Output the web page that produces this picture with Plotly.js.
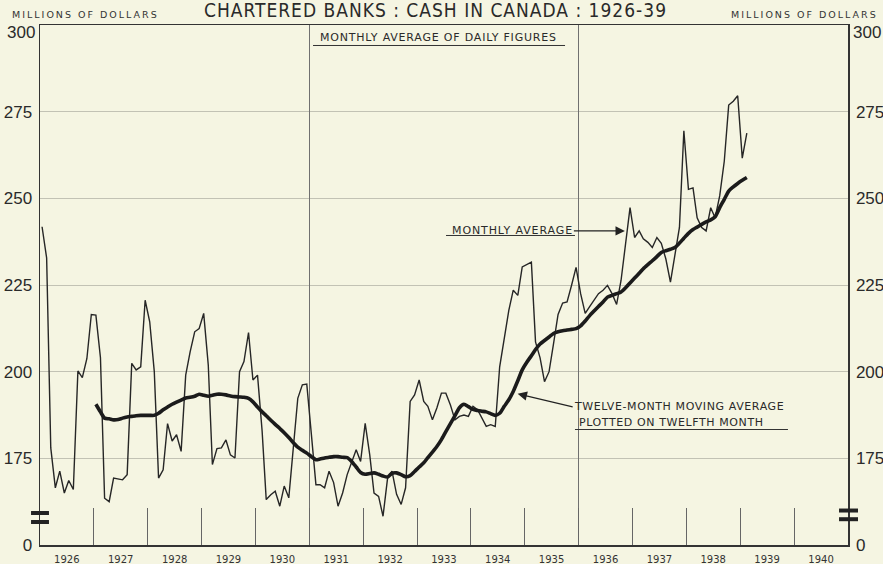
<!DOCTYPE html>
<html>
<head>
<meta charset="utf-8">
<script src="https://cdn.plot.ly/plotly-3.0.1.min.js"></script>
<style>
html,body{margin:0;padding:0;background:#f5f5e2;}
#chart{width:883px;height:564px;}
</style>
</head>
<body>
<div id="chart"></div>
<script>
// ---------- DATA ----------
const startYear = 1926;            // first month of monthly series: Jan 1926
const maStartYear = 1927;          // first month of moving average: Jan 1927

// Chartered banks: cash in Canada, monthly average of daily figures (millions of dollars)
const monthlyAverage = [
  241.8, 232.8, 178.0, 166.5, 171.3, 165.0, 168.6, 166.0, 200.2, 198.3, 203.8, 216.5, // 1926
  216.3, 204.0, 163.5, 162.5, 169.3, 169.0, 168.8, 170.3, 202.4, 200.5, 201.4, 220.6, // 1927
  214.4, 200.0, 169.3, 171.7, 185.0, 180.0, 181.8, 177.0, 199.0, 205.7, 211.5, 212.4, // 1928
  216.8, 201.9, 173.2, 177.8, 178.0, 180.3, 176.0, 175.1, 200.0, 202.9, 211.3, 197.6, // 1929
  199.0, 183.0, 163.1, 164.5, 165.5, 161.2, 167.0, 163.6, 178.0, 192.3, 196.2, 196.4, // 1930
  182.0, 167.4, 167.4, 166.5, 171.3, 168.0, 161.2, 165.0, 170.3, 174.0, 177.5, 174.1, // 1931
  185.1, 176.0, 165.0, 164.0, 158.3, 169.3, 171.3, 164.6, 161.7, 166.5, 191.4, 193.3, // 1932
  197.6, 191.4, 190.0, 186.1, 189.5, 193.8, 193.8, 190.4, 186.1, 187.1, 187.5, 187.1, // 1933
  190.0, 189.0, 186.6, 184.2, 184.7, 184.2, 201.4, 209.6, 217.7, 223.5, 222.0, 230.2, // 1934
  231.0, 231.6, 208.6, 204.0, 197.1, 200.0, 208.0, 216.5, 219.8, 220.1, 225.0, 230.1, // 1935
  222.5, 216.8, 218.7, 220.6, 222.5, 223.5, 224.9, 222.5, 219.4, 226.3, 237.0, 247.3, // 1936
  238.7, 240.6, 238.3, 237.3, 235.8, 238.7, 237.0, 232.5, 225.8, 233.5, 241.6, 269.5, // 1937
  252.6, 253.0, 244.4, 241.6, 240.6, 247.3, 244.4, 250.7, 260.7, 276.9, 278.0, 279.6, // 1938
  261.6, 268.8                                                                          // 1939
];

// Twelve-month moving average, plotted on twelfth month
const movingAverage = [
  190.6, 188.4, 186.6, 186.4, 186.1, 186.2, 186.6, 186.9, 187.1, 187.3, 187.4, 187.4, // 1927
  187.4, 187.4, 188.0, 189.0, 189.8, 190.6, 191.2, 191.8, 192.4, 192.6, 192.9, 193.5, // 1928
  193.2, 192.9, 193.2, 193.5, 193.5, 193.3, 193.0, 192.8, 192.7, 192.6, 192.3, 191.3, // 1929
  189.8, 188.4, 187.3, 186.0, 184.8, 183.6, 182.4, 181.0, 179.5, 178.2, 177.3, 176.5, // 1930
  175.5, 174.6, 174.8, 175.1, 175.3, 175.5, 175.5, 175.3, 175.2, 174.1, 172.5, 170.9, // 1931
  170.4, 170.6, 170.8, 170.4, 169.9, 169.6, 170.7, 170.8, 170.3, 169.7, 170.0, 171.2, // 1932
  172.5, 173.7, 175.2, 176.8, 178.4, 180.4, 182.7, 185.0, 187.3, 189.6, 190.6, 189.9, // 1933
  189.1, 188.8, 188.6, 188.4, 187.9, 187.4, 188.0, 190.0, 191.9, 194.3, 197.4, 200.5, // 1934
  202.7, 204.6, 206.4, 208.0, 209.0, 210.0, 211.0, 211.5, 211.8, 212.0, 212.2, 212.4, // 1935
  213.2, 214.6, 216.1, 217.5, 218.8, 220.1, 221.5, 222.0, 222.5, 223.0, 224.2, 225.6, // 1936
  227.0, 228.4, 229.7, 230.9, 232.0, 233.2, 234.4, 234.9, 235.3, 235.8, 237.1, 238.5, // 1937
  239.9, 241.0, 241.7, 242.5, 243.2, 243.8, 244.7, 247.3, 249.7, 252.1, 253.3, 254.3, // 1938
  255.2, 256.0                                                                          // 1939
];

const yearLabels = ['1926','1927','1928','1929','1930','1931','1932','1933','1934','1935','1936','1937','1938','1939','1940'];
const dividerYears = ['1931','1936'];
const yTickValues = [150, 175, 200, 225, 250, 275, 300];   // broken scale: bottom of axis stands for 0
const yTickLabels = ['0', '175', '200', '225', '250', '275', '300'];

// ---------- helpers ----------
function monthDates(y0, n) {
  const out = [];
  for (let i = 0; i < n; i++) {
    const y = y0 + Math.floor(i / 12);
    const m = (i % 12) + 1;
    out.push(y + '-' + (m < 10 ? '0' + m : m) + '-15');
  }
  return out;
}
const monthlyDates = monthDates(startYear, monthlyAverage.length);
const maDates = monthDates(maStartYear, movingAverage.length);
const yearMid = yearLabels.map(y => y + '-07-02');
const yearStarts = yearLabels.slice(1).map(y => y + '-01-01');
const dividerDates = dividerYears.map(y => y + '-01-01');
const xRange = [yearLabels[0] + '-01-01', (parseInt(yearLabels[yearLabels.length - 1]) + 1) + '-01-01'];

// the top label ("300") sits just below its line in the reference, so it is drawn as a separate text
const topIdx = yTickLabels.length - 1;
const axisTickText = yTickLabels.map((t, i) => (i === topIdx ? '' : t));

const bg = '#f5f5e2';
const ink = '#262626';
const lblFont = 'DejaVu Sans, Verdana, sans-serif';
const numFont = 'Liberation Sans, Arial, sans-serif';

const traces = [
  { x: monthlyDates, y: monthlyAverage, type: 'scatter', mode: 'lines',
    line: { color: ink, width: 1.4 }, xaxis: 'x', yaxis: 'y', hoverinfo: 'skip', name: 'Monthly average' },
  { x: maDates, y: movingAverage, type: 'scatter', mode: 'lines',
    line: { color: '#1b1b1b', width: 3.6, shape: 'spline', smoothing: 0.6 }, xaxis: 'x', yaxis: 'y', hoverinfo: 'skip', name: 'Twelve-month moving average' },
  { x: [], y: [], type: 'scatter', mode: 'lines', xaxis: 'x2', yaxis: 'y', hoverinfo: 'skip' },
  { x: [], y: [], type: 'scatter', mode: 'lines', xaxis: 'x3', yaxis: 'y', hoverinfo: 'skip' },
  { x: [], y: [], type: 'scatter', mode: 'lines', xaxis: 'x', yaxis: 'y2', hoverinfo: 'skip' }
];

function sp(t, ls) { return '<span style="letter-spacing:' + ls + 'px">' + t + '</span>'; }

const yCommon = {
  range: [150, 300], tickmode: 'array', tickvals: yTickValues, ticktext: axisTickText,
  ticks: '', zeroline: false, showline: true, linecolor: '#333', linewidth: 1.5,
  tickfont: { family: numFont, size: 17, color: '#2a2a2a' }, ticklabelstandoff: 3, fixedrange: true
};

const layout = {
  width: 883, height: 564,
  margin: { l: 40, r: 35, t: 25, b: 19, pad: 0 },
  paper_bgcolor: bg, plot_bgcolor: bg,
  showlegend: false,
  font: { family: lblFont, color: '#2a2a2a' },
  xaxis: {
    type: 'date', range: xRange, tickmode: 'array', tickvals: yearMid, ticktext: yearLabels,
    ticks: '', showgrid: false, zeroline: false, showline: true, linecolor: '#333', linewidth: 1.5,
    mirror: true, tickfont: { family: lblFont, size: 10, color: '#333' }, ticklabelstandoff: 4, fixedrange: true
  },
  xaxis2: {
    type: 'date', overlaying: 'x', anchor: 'y', range: xRange, tickmode: 'array', tickvals: yearStarts,
    ticks: 'inside', ticklen: 37, tickwidth: 1, tickcolor: '#666', showticklabels: false,
    showgrid: false, showline: false, zeroline: false, fixedrange: true
  },
  xaxis3: {
    type: 'date', overlaying: 'x', anchor: 'y', range: xRange, tickmode: 'array', tickvals: dividerDates,
    ticks: '', showticklabels: false, showgrid: true, gridcolor: '#707070', gridwidth: 1,
    showline: false, zeroline: false, fixedrange: true
  },
  yaxis: Object.assign({}, yCommon, { side: 'left', showgrid: true, gridcolor: '#c2c2b4', gridwidth: 1 }),
  yaxis2: Object.assign({}, yCommon, { side: 'right', overlaying: 'y', anchor: 'x', showgrid: false }),
  shapes: [
    // axis-break marks
    { type: 'line', xref: 'paper', yref: 'paper', x0: -0.0111, x1: 0.0111, y0: 0.0615, y1: 0.0615, line: { color: '#222', width: 4 } },
    { type: 'line', xref: 'paper', yref: 'paper', x0: -0.0111, x1: 0.0111, y0: 0.0442, y1: 0.0442, line: { color: '#222', width: 4 } },
    { type: 'line', xref: 'paper', yref: 'paper', x0: 0.9889, x1: 1.0124, y0: 0.0663, y1: 0.0663, line: { color: '#222', width: 4 } },
    { type: 'line', xref: 'paper', yref: 'paper', x0: 0.9889, x1: 1.0124, y0: 0.0496, y1: 0.0496, line: { color: '#222', width: 4 } },
    // underlines of the lettering
    { type: 'line', xref: 'paper', yref: 'paper', x0: 0.3379, x1: 0.6498, y0: 0.9606, y1: 0.9606, line: { color: '#333', width: 1 } },
    { type: 'line', xref: 'paper', yref: 'paper', x0: 0.5025, x1: 0.6621, y0: 0.5952, y1: 0.5952, line: { color: '#333', width: 1 } },
    { type: 'line', xref: 'paper', yref: 'paper', x0: 0.6621, x1: 0.9257, y0: 0.2221, y1: 0.2221, line: { color: '#333', width: 1 } }
  ],
  annotations: [
    { text: sp('CHARTERED BANKS : CASH IN CANADA : 1926-39', 1), xref: 'paper', yref: 'paper', x: 0.4889, y: 1.0067,
      xanchor: 'center', yanchor: 'bottom', showarrow: false, borderpad: 0,
      font: { family: 'DejaVu Sans Condensed, DejaVu Sans, sans-serif', size: 19, color: '#2a2a2a' } },
    { text: sp('MILLIONS OF DOLLARS', 2), xref: 'paper', yref: 'paper', x: -0.0371, y: 1.0198,
      xanchor: 'left', yanchor: 'middle', showarrow: false, font: { family: lblFont, size: 9.5, color: '#333' } },
    { text: sp('MILLIONS OF DOLLARS', 2), xref: 'paper', yref: 'paper', x: 1.0396, y: 1.0198,
      xanchor: 'right', yanchor: 'middle', showarrow: false, font: { family: lblFont, size: 9.5, color: '#333' } },
    { text: yTickLabels[topIdx], xref: 'paper', yref: 'paper', x: -0.004, y: 0.9865,
      xanchor: 'right', yanchor: 'middle', showarrow: false, font: { family: numFont, size: 17, color: '#2a2a2a' } },
    { text: yTickLabels[topIdx], xref: 'paper', yref: 'paper', x: 1.004, y: 0.9865,
      xanchor: 'left', yanchor: 'middle', showarrow: false, font: { family: numFont, size: 17, color: '#2a2a2a' } },
    { text: sp('MONTHLY AVERAGE OF DAILY FIGURES', 0.8), xref: 'paper', yref: 'paper', x: 0.4926, y: 0.976,
      xanchor: 'center', yanchor: 'middle', showarrow: false, font: { family: lblFont, size: 11, color: '#2a2a2a' } },
    { text: sp('MONTHLY AVERAGE', 0.9), xref: 'x', yref: 'y', x: '1936-11-10', y: 240.6,
      ax: -51, ay: 0, xanchor: 'right', yanchor: 'middle', showarrow: true, borderpad: 0, standoff: 0,
      arrowhead: 2, arrowsize: 1.7, arrowwidth: 1.1, arrowcolor: '#222',
      font: { family: lblFont, size: 11, color: '#2a2a2a' } },
    { text: sp('TWELVE-MONTH MOVING AVERAGE', 0.6), xref: 'x', yref: 'y', x: '1934-11-14', y: 193.6,
      ax: 55, ay: 13, xanchor: 'left', yanchor: 'middle', showarrow: true, borderpad: 0, standoff: 0,
      arrowhead: 2, arrowsize: 1.7, arrowwidth: 1.1, arrowcolor: '#222',
      font: { family: lblFont, size: 11, color: '#2a2a2a' } },
    { text: sp('PLOTTED ON TWELFTH MONTH', 0.6), xref: 'paper', yref: 'paper', x: 0.6646, y: 0.2365,
      xanchor: 'left', yanchor: 'middle', showarrow: false, font: { family: lblFont, size: 11, color: '#2a2a2a' } }
  ]
};

Plotly.newPlot('chart', traces, layout, { staticPlot: true, displayModeBar: false });
</script>
</body>
</html>
